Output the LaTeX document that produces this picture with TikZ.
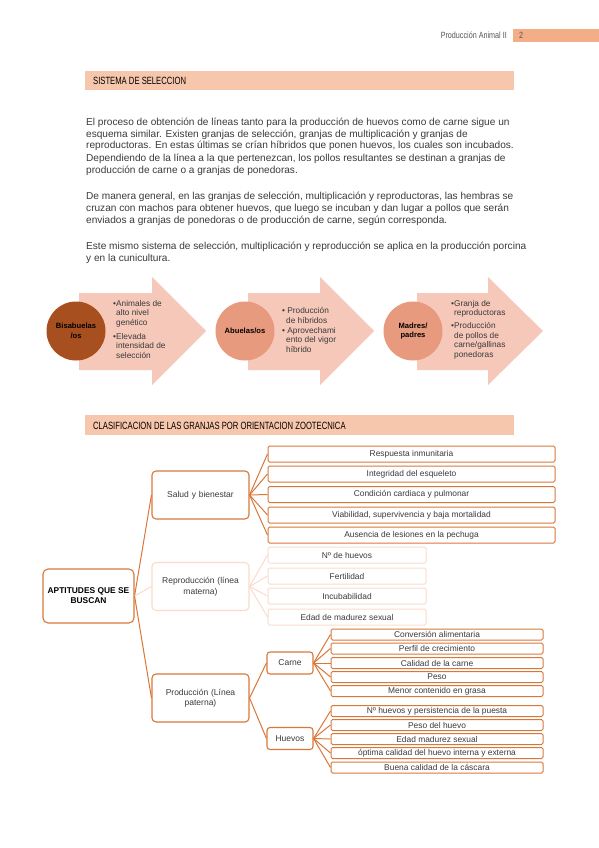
\documentclass[tikz,border=0pt]{standalone}
\usepackage{tikz}
\usepackage{fontspec}
\setmainfont{Liberation Sans}
\newfontfamily\headfont[FakeStretch=0.8]{Liberation Sans}
\newfontfamily\secfont[FakeStretch=0.73]{Liberation Sans}
\definecolor{pagebar}{HTML}{F4AE87}
\definecolor{secbar}{HTML}{F7C7AD}
\definecolor{arrowc}{HTML}{F5C8B9}
\definecolor{circA}{HTML}{A84F20}
\definecolor{circB}{HTML}{E89A7E}
\definecolor{treeline}{HTML}{D9773A}
\definecolor{fadeline}{HTML}{FBDBCB}
\definecolor{txtgrey}{HTML}{3A3A3A}
\definecolor{headgrey}{HTML}{555555}
\begin{document}
\begin{tikzpicture}[x=1pt,y=-1pt,
  para/.style={anchor=base west,inner sep=0,text=txtgrey,font=\fontsize{10.1}{12}\selectfont},
  sectitle/.style={anchor=west,inner sep=0,text=black,font=\secfont\fontsize{10.5}{11}\selectfont},
  bubble/.style={circle,minimum size=59pt,inner sep=0,align=center,text=black,font=\bfseries\fontsize{7.6}{9.5}\selectfont},
  bullettext/.style={anchor=north west,inner sep=0,align=left,text=txtgrey,font=\fontsize{8.3}{9.7}\selectfont},
  rootbox/.style={draw=treeline,line width=1.1pt,rounded corners=5pt,fill=white,minimum width=91pt,minimum height=54pt,inner sep=1pt,align=center,text=black,font=\bfseries\fontsize{8.4}{10.2}\selectfont},
  midbox/.style={draw=treeline,line width=1.1pt,rounded corners=4pt,fill=white,minimum width=97pt,minimum height=48pt,inner sep=1pt,align=center,text width=92pt,text=txtgrey,font=\fontsize{8.5}{10.5}\selectfont},
  fadebox/.style={midbox,draw=fadeline},
  smallbox/.style={draw=treeline,line width=1.1pt,rounded corners=3pt,fill=white,minimum width=46pt,minimum height=22pt,inner sep=0,text=txtgrey,font=\fontsize{8.5}{10}\selectfont},
  leafA/.style={draw=treeline,line width=1pt,rounded corners=1.5pt,fill=white,minimum width=287pt,minimum height=16pt,inner sep=0,text=txtgrey,font=\fontsize{8.4}{9}\selectfont},
  leafR/.style={leafA,draw=fadeline,minimum width=158pt},
  leafC/.style={leafA,minimum width=212pt,minimum height=11pt},
  conn/.style={draw=treeline,line width=1pt},
  fconn/.style={draw=fadeline,line width=1pt}
]
\useasboundingbox (0,0) rectangle (599,848);
\fill[white] (0,0) rectangle (599,848);
% running head
\fill[pagebar] (513,29) rectangle (599,42);
\node[anchor=west,inner sep=0,text=headgrey,font=\headfont\fontsize{9}{10}\selectfont] (pnum) at (519,35.5) {2};
\node[anchor=east,inner sep=0,text=headgrey,font=\headfont\fontsize{9}{10}\selectfont] (runhead) at (507,35.5) {Producción Animal II};
% section 1
\fill[secbar] (85,71) rectangle (514,90);
\node[sectitle] (sec1) at (93,81) {SISTEMA DE SELECCION};
% paragraphs
\node[para] (p1a) at (86,125) {El proceso de obtención de líneas tanto para la producción de huevos como de carne sigue un};
\node[para] (p1b) at (86,137) {esquema similar. Existen granjas de selección, granjas de multiplicación y granjas de};
\node[para] (p1c) at (86,149) {reproductoras. En estas últimas se crían híbridos que ponen huevos, los cuales son incubados.};
\node[para] (p1d) at (86,161) {Dependiendo de la línea a la que pertenezcan, los pollos resultantes se destinan a granjas de};
\node[para] (p1e) at (86,173) {producción de carne o a granjas de ponedoras.};
\node[para] (p2a) at (86,199) {De manera general, en las granjas de selección, multiplicación y reproductoras, las hembras se};
\node[para] (p2b) at (86,211) {cruzan con machos para obtener huevos, que luego se incuban y dan lugar a pollos que serán};
\node[para] (p2c) at (86,223) {enviados a granjas de ponedoras o de producción de carne, según corresponda.};
\node[para] (p3a) at (86,249) {Este mismo sistema de selección, multiplicación y reproducción se aplica en la producción porcina};
\node[para] (p3b) at (86,261) {y en la cunicultura.};
% arrows
\fill[arrowc] (79,293) -- (152,293) -- (152,277) -- (206,331) -- (152,385) -- (152,370) -- (79,370) -- cycle;
\fill[arrowc] (248,293) -- (320,293) -- (320,277) -- (374,331) -- (320,385) -- (320,370) -- (248,370) -- cycle;
\fill[arrowc] (417,293) -- (488,293) -- (488,277) -- (543,331) -- (488,385) -- (488,370) -- (417,370) -- cycle;
\node[bubble,fill=circA] (c1) at (76,331) {Bisabuelas\\/os};
\node[bubble,fill=circB] (c2) at (245,331) {Abuelas/os};
\node[bubble,fill=circB] (c3) at (413,331) {Madres/\\padres};
\node[bullettext] (b1a) at (113,300) {•Animales de\\\hspace*{3pt}alto nivel\\\hspace*{3pt}genético};
\node[bullettext] (b1b) at (113,333) {•Elevada\\\hspace*{3pt}intensidad de\\\hspace*{3pt}selección};
\node[bullettext] (b2a) at (282,307) {• Producción\\\hspace*{4pt}de híbridos};
\node[bullettext] (b2b) at (282,327) {• Aprovechami\\\hspace*{4pt}ento del vigor\\\hspace*{4pt}híbrido};
\node[bullettext] (b3a) at (451,300) {•Granja de\\\hspace*{3pt}reproductoras};
\node[bullettext] (b3b) at (451,322) {•Producción\\\hspace*{3pt}de pollos de\\\hspace*{3pt}carne/gallinas\\\hspace*{3pt}ponedoras};
% section 2
\fill[secbar] (85,415) rectangle (514,435);
\node[sectitle] (sec2) at (93,425.5) {CLASIFICACION DE LAS GRANJAS POR ORIENTACION ZOOTECNICA};
% tree
\node[rootbox] (root) at (88.5,596) {APTITUDES QUE SE\\BUSCAN};
\node[midbox] (salud) at (200.5,495) {Salud y bienestar};
\node[fadebox] (repro) at (200.5,586.5) {Reproducción (línea\\materna)};
\node[midbox] (prod) at (200.5,698) {Producción (Línea\\paterna)};
\node[leafA] (s1) at (411.5,454) {Respuesta inmunitaria};
\node[leafA] (s2) at (411.5,474) {Integridad del esqueleto};
\node[leafA] (s3) at (411.5,494.5) {Condición cardiaca y pulmonar};
\node[leafA] (s4) at (411.5,515) {Viabilidad, supervivencia y baja mortalidad};
\node[leafA] (s5) at (411.5,535) {Ausencia de lesiones en la pechuga};
\node[leafR] (r1) at (347,555) {Nº de huevos};
\node[leafR] (r2) at (347,576) {Fertilidad};
\node[leafR] (r3) at (347,596) {Incubabilidad};
\node[leafR] (r4) at (347,617) {Edad de madurez sexual};
\node[smallbox] (carne) at (290,663) {Carne};
\node[smallbox] (huevos) at (290,738.5) {Huevos};
\node[leafC] (k1) at (437,634.5) {Conversión alimentaria};
\node[leafC] (k2) at (437,648.5) {Perfil de crecimiento};
\node[leafC] (k3) at (437,663) {Calidad de la carne};
\node[leafC] (k4) at (437,677) {Peso};
\node[leafC] (k5) at (437,691) {Menor contenido en grasa};
\node[leafC] (h1) at (437,711) {Nº huevos y persistencia de la puesta};
\node[leafC] (h2) at (437,725) {Peso del huevo};
\node[leafC] (h3) at (437,739) {Edad madurez sexual};
\node[leafC] (h4) at (437,753) {óptima calidad del huevo interna y externa};
\node[leafC] (h5) at (437,767.5) {Buena calidad de la cáscara};
% connectors
\draw[conn] (root.east) -- (salud.west);
\draw[fconn] (root.east) -- (repro.west);
\draw[conn] (root.east) -- (prod.west);
\foreach \n in {s1,s2,s3,s4,s5} \draw[conn] (salud.east) -- (\n.west);
\foreach \n in {r1,r2,r3,r4} \draw[fconn] (repro.east) -- (\n.west);
\draw[conn] (prod.east) -- (carne.west);
\draw[conn] (prod.east) -- (huevos.west);
\foreach \n in {k1,k2,k3,k4,k5} \draw[conn] (carne.east) -- (\n.west);
\foreach \n in {h1,h2,h3,h4,h5} \draw[conn] (huevos.east) -- (\n.west);
\end{tikzpicture}
\end{document}
